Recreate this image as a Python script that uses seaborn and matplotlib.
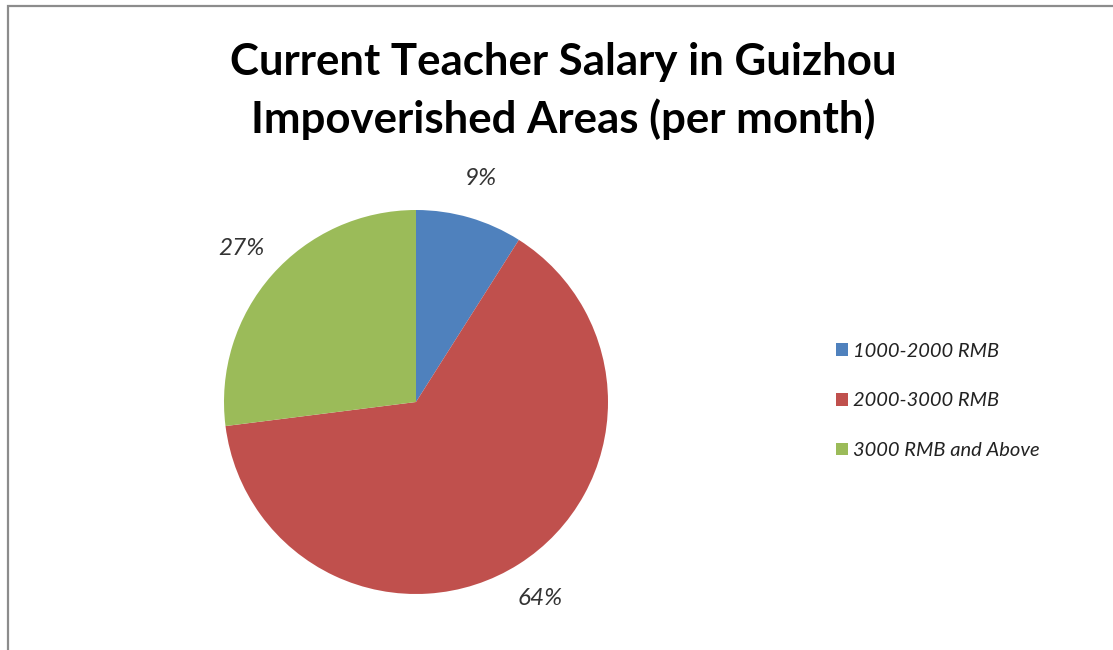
import matplotlib
matplotlib.use("Agg")
import matplotlib.pyplot as plt
import seaborn as sns
from matplotlib.patches import Rectangle

# Salary bands and their shares (%)
salary_bands = ["1000-2000 RMB", "2000-3000 RMB", "3000 RMB and Above"]
shares = [9, 64, 27]
slice_colors = ["#4F81BD", "#C0504D", "#9BBB59"]

sns.set_style("white")
plt.rcParams['font.family'] = ['Lato', 'DejaVu Sans']

W, H = 1113, 650
fig = plt.figure(figsize=(W / 100, H / 100), dpi=100)

# outer chart frame (right and bottom edges fall outside the picture)
fig.patches.append(Rectangle((8 / W, -0.2), 1.2, 1.2 - 6 / H, transform=fig.transFigure,
                             fill=False, edgecolor="#8c8c8c", linewidth=1.6))

fig.text(563 / W, 1 - 62 / H, "Current Teacher Salary in Guizhou", ha="center", va="center",
         fontsize=31.5, fontweight="bold", color="black")
fig.text(563 / W, 1 - 119 / H, "Impoverished Areas (per month)", ha="center", va="center",
         fontsize=31.5, fontweight="bold", color="black")

# pie axes: centre (416, 402) px, radius 192 px
cx, cy, r = 416, 402, 192
ax = fig.add_axes([(cx - r) / W, 1 - (cy + r) / H, 2 * r / W, 2 * r / H])
wedges, texts, autotexts = ax.pie(
    shares, colors=slice_colors, startangle=90, counterclock=False,
    autopct=lambda p: f"{p:.0f}%", pctdistance=1.21, radius=1,
    wedgeprops=dict(linewidth=0),
    textprops=dict(fontsize=17.5, fontstyle="italic", color="#333333"),
)
ax.set_xlim(-1, 1)
ax.set_ylim(-1, 1)
ax.set_aspect("equal")
ax.axis("off")

leg = fig.legend(wedges, salary_bands, loc="center left",
                 bbox_to_anchor=(818 / W, 1 - 401 / H), frameon=False,
                 prop=dict(size=14.5, style="italic"), labelspacing=1.62,
                 handlelength=0.6, handleheight=0.6, handletextpad=0.25)
for t in leg.get_texts():
    t.set_color("#222222")

fig.savefig("out.png", dpi=100)
